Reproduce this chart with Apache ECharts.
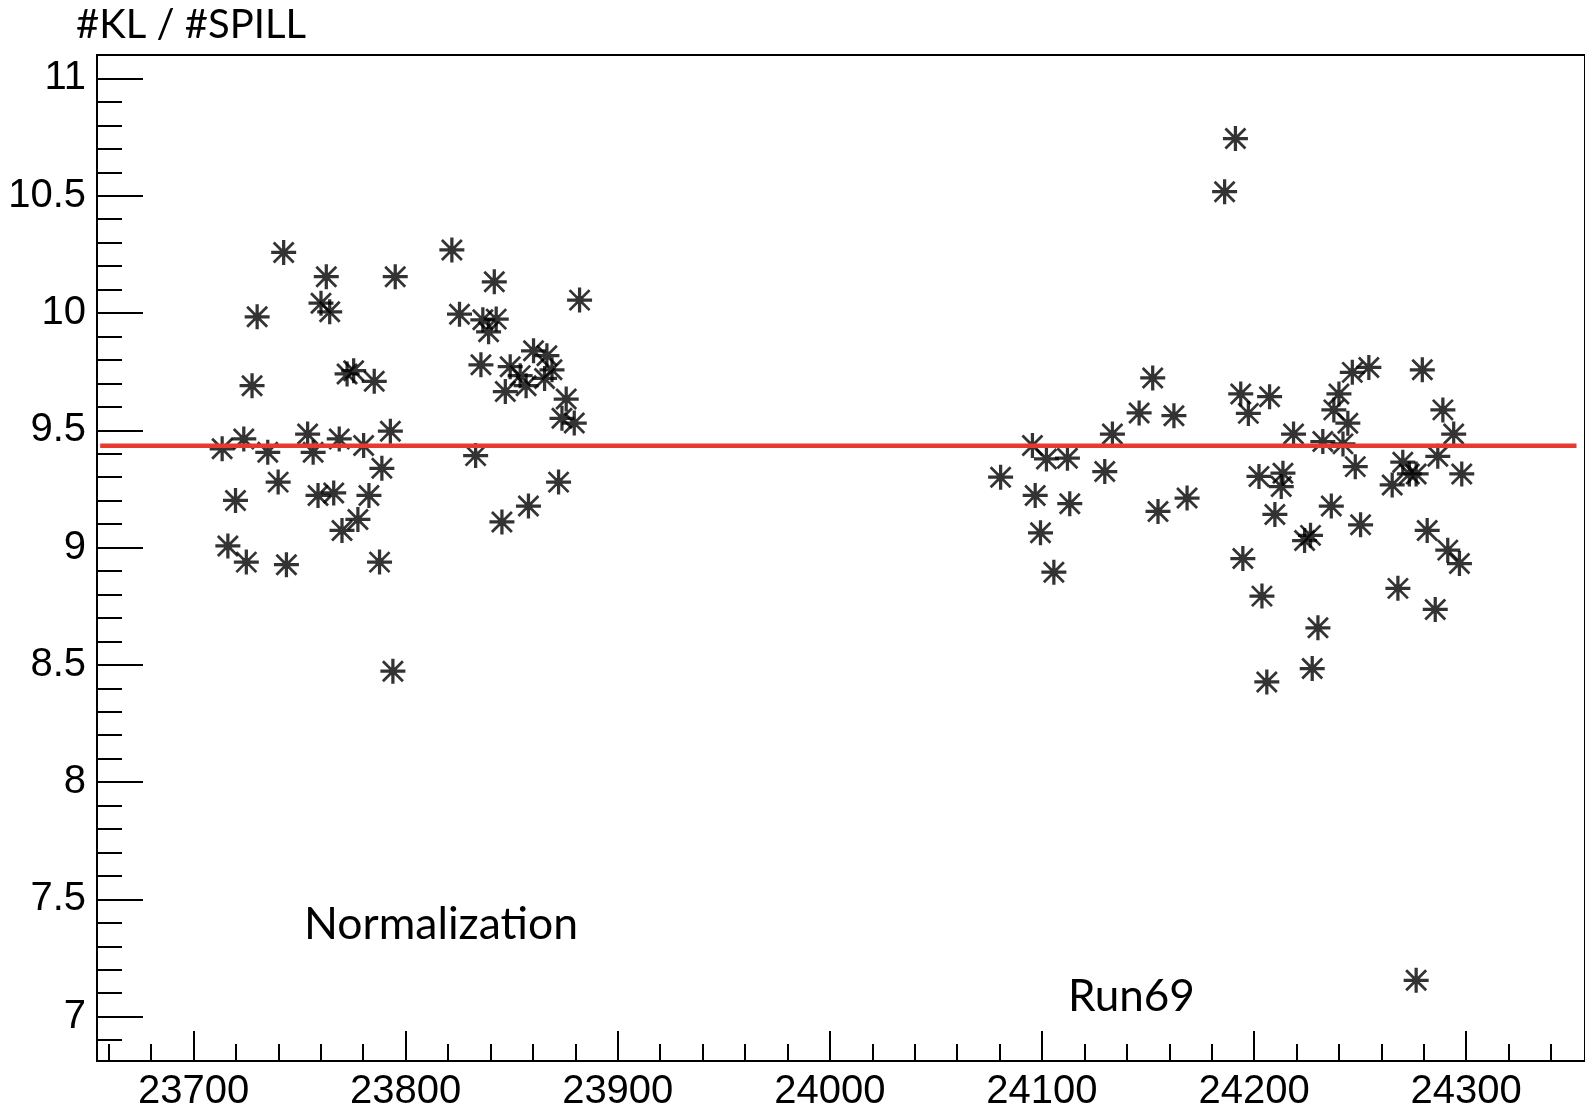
<!DOCTYPE html>
<html>
<head>
<meta charset="utf-8">
<script src="https://cdn.jsdelivr.net/npm/echarts@6/dist/echarts.min.js"></script>
<style>
html,body{margin:0;padding:0;background:#fff;}
#chart{width:1585px;height:1112px;}
</style>
</head>
<body>
<div id="chart"></div>
<script>
// ---- data ----
const normX = [23742.5, 23762.6, 23795.1, 23821.8, 23841.8, 23882.0, 23730.0, 23760.1, 23764.2, 23825.4,
  23836.4, 23842.7, 23839.1, 23727.6, 23772.4, 23775.5, 23785.2, 23835.5, 23860.3, 23866.6,
  23869.0, 23865.5, 23849.3, 23854.0, 23856.8, 23847.0, 23875.7, 23873.7, 23879.5, 23713.5,
  23723.7, 23735.0, 23753.8, 23756.4, 23768.7, 23780.2, 23792.8, 23833.0, 23788.8, 23739.9,
  23719.8, 23758.7, 23766.1, 23782.7, 23872.1, 23857.9, 23777.5, 23770.0, 23716.2, 23724.9,
  23743.8, 23787.7, 23794.0, 23845.4];
const normY = [10.258, 10.155, 10.155, 10.269, 10.133, 10.055, 9.984, 10.042, 10.005, 9.995,
  9.971, 9.974, 9.920, 9.690, 9.740, 9.754, 9.709, 9.779, 9.839, 9.818,
  9.758, 9.721, 9.771, 9.733, 9.690, 9.665, 9.633, 9.551, 9.531, 9.421,
  9.463, 9.406, 9.484, 9.406, 9.463, 9.435, 9.496, 9.392, 9.338, 9.279,
  9.201, 9.222, 9.233, 9.222, 9.279, 9.177, 9.120, 9.073, 9.007, 8.938,
  8.927, 8.938, 8.473, 9.109];
const runX = [24191.2, 24186.1, 24152.2, 24145.8, 24162.2, 24133.2, 24095.5, 24102.1, 24112.0, 24080.5,
  24129.6, 24096.8, 24113.1, 24099.3, 24105.6, 24154.7, 24168.4, 24193.7, 24197.3, 24207.3,
  24218.6, 24202.3, 24213.6, 24212.8, 24209.8, 24194.7, 24232.4, 24240.0, 24237.6, 24244.2,
  24246.3, 24254.1, 24241.9, 24247.7, 24236.4, 24223.8, 24226.6, 24250.2, 24279.3, 24289.0,
  24294.1, 24286.6, 24297.9, 24270.1, 24273.2, 24276.4, 24265.1, 24281.6, 24203.7, 24230.1,
  24227.4, 24206.0, 24267.8, 24285.4, 24291.3, 24296.8, 24276.4];
const runY = [10.744, 10.517, 9.723, 9.574, 9.562, 9.484, 9.435, 9.378, 9.381, 9.300,
  9.324, 9.222, 9.187, 9.063, 8.895, 9.154, 9.211, 9.655, 9.572, 9.643,
  9.484, 9.303, 9.317, 9.260, 9.141, 8.953, 9.452, 9.655, 9.587, 9.530,
  9.747, 9.768, 9.442, 9.345, 9.177, 9.030, 9.052, 9.097, 9.758, 9.587,
  9.484, 9.389, 9.314, 9.364, 9.314, 9.314, 9.267, 9.073, 8.793, 8.658,
  8.484, 8.427, 8.826, 8.736, 8.989, 8.932, 7.155];
const fitX = [23656, 24352];
const fitY = [9.434, 9.434];

const xTicks = [23700, 23800, 23900, 24000, 24100, 24200, 24300];
const yTicks = [7, 7.5, 8, 8.5, 9, 9.5, 10, 10.5, 11];
const X_MIN = 23654.5, X_MAX = 24356;
const Y_MIN = 6.811, Y_MAX = 11.1;

// minor tick positions (every 20 on x, every 0.1 on y)
const xMinor = [];
for (let v = 23660; v <= 24340; v += 20) { if (v % 100 !== 0) xMinor.push(v); }
const yMinor = [];
for (let i = 69; i <= 110; i++) { if (i % 5 !== 0) yMinor.push(i / 10); }

const zip = (a, b) => a.map((v, i) => [v, b[i]]);

// asterisk marker (plus + x + center blob), all subpaths same winding
const STAR = 'path://M43.5 0L56.5 0L56.5 100L43.5 100Z M0 43.5L100 43.5L100 56.5L0 56.5Z ' +
  'M13.9 6.1L93.9 86.1L86.1 93.9L6.1 13.9Z ' +
  'M93.9 13.9L13.9 93.9L6.1 86.1L86.1 6.1Z M34 34L66 34L66 66L34 66Z';

const labelFont = {fontFamily: '"Liberation Sans", Arial, sans-serif', fontSize: 40, color: '#000'};
const fmt = v => String(v);

const chart = echarts.init(document.getElementById('chart'), null, {renderer: 'canvas'});
chart.setOption({
  animation: false,
  backgroundColor: '#fff',
  grid: {left: 97, top: 55, right: -2, bottom: 48, show: true, borderColor: '#000', borderWidth: 2, backgroundColor: 'transparent'},
  xAxis: [
    {type: 'value', min: X_MIN, max: X_MAX, position: 'bottom',
      axisLine: {show: true, onZero: false, lineStyle: {color: '#000', width: 2}},
      axisTick: {show: true, inside: true, length: 30, customValues: xTicks, lineStyle: {color: '#000', width: 2}},
      axisLabel: Object.assign({customValues: xTicks, margin: 11, formatter: fmt}, labelFont),
      splitLine: {show: false}},
    {type: 'value', min: X_MIN, max: X_MAX, position: 'bottom', offset: 0,
      axisLine: {show: false},
      axisTick: {show: true, inside: true, length: 17, customValues: xMinor, lineStyle: {color: '#000', width: 2}},
      axisLabel: {show: false}, splitLine: {show: false}}
  ],
  yAxis: [
    {type: 'value', min: Y_MIN, max: Y_MAX, position: 'left',
      axisLine: {show: true, onZero: false, lineStyle: {color: '#000', width: 2}},
      axisTick: {show: true, inside: true, length: 46, customValues: yTicks, lineStyle: {color: '#000', width: 2}},
      axisLabel: Object.assign({customValues: yTicks, margin: 11, formatter: fmt}, labelFont),
      splitLine: {show: false}},
    {type: 'value', min: Y_MIN, max: Y_MAX, position: 'left', offset: 0,
      axisLine: {show: false},
      axisTick: {show: true, inside: true, length: 25, customValues: yMinor, lineStyle: {color: '#000', width: 2}},
      axisLabel: {show: false}, splitLine: {show: false}}
  ],
  series: [
    {name: 'Normalization', type: 'scatter', xAxisIndex: 0, yAxisIndex: 0, data: zip(normX, normY),
      symbol: STAR, symbolSize: 25, itemStyle: {color: '#000'}, z: 2},
    {name: 'Run69', type: 'scatter', xAxisIndex: 0, yAxisIndex: 0, data: zip(runX, runY),
      symbol: STAR, symbolSize: 25, itemStyle: {color: '#000'}, z: 2},
    {name: 'fit', type: 'line', xAxisIndex: 0, yAxisIndex: 0, data: zip(fitX, fitY),
      symbol: 'none', lineStyle: {color: '#e8392e', width: 4.5}, z: 5, silent: true}
  ],
  graphic: [
    {type: 'text', left: 76, top: 5, style: {text: '#KL / #SPILL', font: '40px Lato, "Open Sans", sans-serif', fill: '#000'}},
    {type: 'text', left: 304, top: 902, style: {text: 'Normalization', font: '44.5px Lato, "Open Sans", sans-serif', fill: '#000'}},
    {type: 'text', left: 1068, top: 975, style: {text: 'Run69', font: '44px Lato, "Open Sans", sans-serif', fill: '#000'}}
  ]
});
</script>
</body>
</html>
